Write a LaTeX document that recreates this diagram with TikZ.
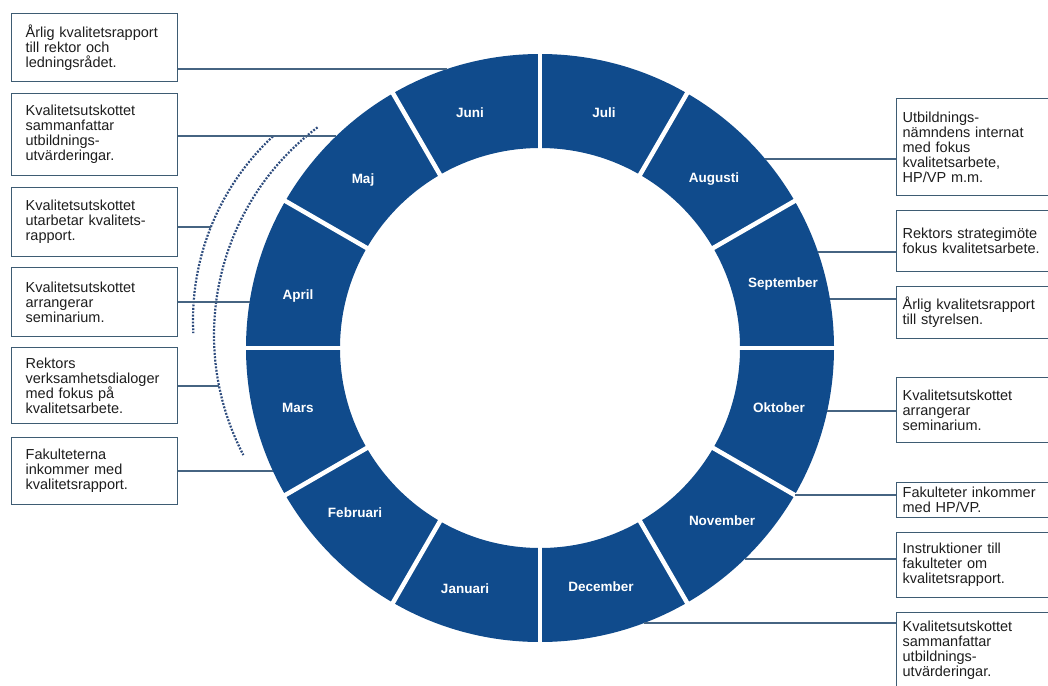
\documentclass[tikz,border=0pt]{standalone}
\usepackage{fontspec}
\setmainfont{Liberation Sans}
\usetikzlibrary{calc}
\definecolor{ringblue}{RGB}{16,75,140}
\definecolor{boxline}{RGB}{62,92,115}
\definecolor{conline}{RGB}{70,100,130}
\definecolor{dotblue}{RGB}{45,75,125}
\definecolor{txt}{RGB}{30,30,30}
\begin{document}
\begin{tikzpicture}[x=1pt,y=-1pt,
  lbox/.style={draw=boxline, line width=1.3pt, fill=white, anchor=north west,
    minimum width=166pt, text width=138pt, inner xsep=14pt, align=left,
    font=\fontsize{14.5pt}{15pt}\selectfont, text=txt},
  rbox/.style={draw=boxline, line width=1.3pt, fill=white, anchor=north west,
    text width=150pt, inner xsep=6pt, align=left,
    font=\fontsize{14.5pt}{15pt}\selectfont, text=txt},
  month/.style={text=white, font=\bfseries\fontsize{13.5pt}{15pt}\selectfont},
  conn/.style={draw=conline, line width=1.1pt},
  dotarc/.style={draw=dotblue, line width=2.2pt, dash pattern=on 1.9pt off 1.5pt}]
\useasboundingbox (0,0) rectangle (1048,685);
\fill[white] (0,0) rectangle (1048,685);

% ring
\coordinate (c) at (540,348);
\fill[ringblue, even odd rule] (c) circle[radius=294pt] (c) circle[radius=200pt];
\foreach \a in {0,30,...,330}
  \draw[white, line width=4.5pt] ([shift={(\a:197pt)}]c) -- ([shift={(\a:297pt)}]c);

% month labels
\node[month] (mjun) at (470,113) {Juni};
\node[month] (mjul) at (604,113) {Juli};
\node[month] (maug) at (714,179) {Augusti};
\node[month] (msep) at (783,284) {September};
\node[month] (mokt) at (779,408) {Oktober};
\node[month] (mnov) at (722,521) {November};
\node[month] (mdec) at (601,587) {December};
\node[month] (mjan) at (465,589) {Januari};
\node[month] (mfeb) at (355,513) {Februari};
\node[month] (mmar) at (298,408) {Mars};
\node[month] (mapr) at (298,296) {April};
\node[month] (mmaj) at (363,180) {Maj};

% dotted arcs
\coordinate (oc) at (444,320);
\coordinate (ic) at (474,335);
\draw[dotarc] ([shift={(133:251pt)}]oc) arc[start angle=133, end angle=183, radius=251pt];
\draw[dotarc] ([shift={(127:260pt)}]ic) arc[start angle=127, end angle=207.5, radius=260pt];

% left boxes
\node[lbox, minimum height=68pt] (L1) at (11,13) {Årlig kvalitetsrapport\\till rektor och\\ledningsrådet.};
\node[lbox, minimum height=82pt] (L2) at (11,93) {Kvalitetsutskottet\\sammanfattar\\utbildnings-\\utvärderingar.};
\node[lbox, minimum height=69pt] (L3) at (11,187) {Kvalitetsutskottet\\utarbetar kvalitets-\\rapport.};
\node[lbox, minimum height=69pt] (L4) at (11,267) {Kvalitetsutskottet\\arrangerar\\seminarium.};
\node[lbox, minimum height=76pt] (L5) at (11,347) {Rektors\\verksamhetsdialoger\\med fokus på\\kvalitetsarbete.};
\node[lbox, minimum height=67pt] (L6) at (11,437) {Fakulteterna\\inkommer med\\kvalitetsrapport.};

% right boxes
\node[rbox, minimum height=97pt] (R1) at (896,98) {Utbildnings-\\nämndens internat\\med fokus\\kvalitetsarbete,\\HP/VP m.m.};
\node[rbox, minimum height=61pt] (R2) at (896,210) {Rektors strategimöte\\fokus kvalitetsarbete.};
\node[rbox, minimum height=52pt] (R3) at (896,286) {Årlig kvalitetsrapport\\till styrelsen.};
\node[rbox, minimum height=65pt] (R4) at (896,377) {Kvalitetsutskottet\\arrangerar\\seminarium.};
\node[rbox, minimum height=35pt] (R5) at (896,482) {Fakulteter inkommer\\med HP/VP.};
\node[rbox, minimum height=65pt] (R6) at (896,532) {Instruktioner till\\fakulteter om\\kvalitetsrapport.};
\node[rbox, minimum height=76pt] (R7) at (896,612) {Kvalitetsutskottet\\sammanfattar\\utbildnings-\\utvärderingar.};

% connector end points
\coordinate (pl1) at (447.3,69);
\coordinate (pl2) at (336.3,136);
\coordinate (pl3) at (210.9,227);
\coordinate (pl4) at (249.6,302);
\coordinate (pl5) at (219,386);
\coordinate (pl6) at (273,471);
\coordinate (pr1) at (765.2,159);
\coordinate (pr2) at (817.9,252);
\coordinate (pr3) at (829.9,299);
\coordinate (pr4) at (827.2,411);
\coordinate (pr5) at (794.6,495);
\coordinate (pr6) at (744.7,559);
\coordinate (pr7) at (644,623);

\foreach \i in {1,...,6} \draw[conn] (L\i.east |- pl\i) -- (pl\i);
\foreach \i in {1,...,7} \draw[conn] (R\i.west |- pr\i) -- (pr\i);
\end{tikzpicture}
\end{document}
